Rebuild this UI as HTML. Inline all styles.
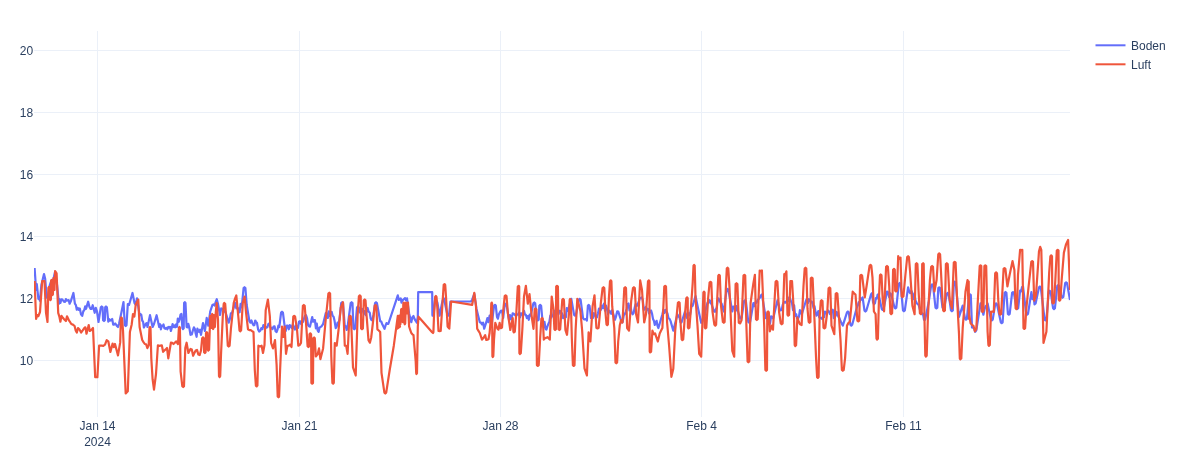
<!DOCTYPE html>
<html><head><meta charset="utf-8"><style>
html,body{margin:0;padding:0;background:#fff;width:1178px;height:460px;overflow:hidden}
svg{display:block;will-change:transform}
text{font-family:"Liberation Sans",sans-serif;font-size:12px;fill:#2a3f5f}
</style></head><body>
<svg width="1178" height="460" viewBox="0 0 1178 460">
<rect width="1178" height="460" fill="#fff"/>
<line x1="34" x2="1070" y1="50.5" y2="50.5" stroke="#EBF0F8" stroke-width="1"/>
<text x="33.1" y="54.7" text-anchor="end">20</text>
<line x1="34" x2="1070" y1="112.5" y2="112.5" stroke="#EBF0F8" stroke-width="1"/>
<text x="33.1" y="116.7" text-anchor="end">18</text>
<line x1="34" x2="1070" y1="174.5" y2="174.5" stroke="#EBF0F8" stroke-width="1"/>
<text x="33.1" y="178.7" text-anchor="end">16</text>
<line x1="34" x2="1070" y1="236.5" y2="236.5" stroke="#EBF0F8" stroke-width="1"/>
<text x="33.1" y="240.7" text-anchor="end">14</text>
<line x1="34" x2="1070" y1="298.5" y2="298.5" stroke="#EBF0F8" stroke-width="1"/>
<text x="33.1" y="302.7" text-anchor="end">12</text>
<line x1="34" x2="1070" y1="360.5" y2="360.5" stroke="#EBF0F8" stroke-width="1"/>
<text x="33.1" y="364.7" text-anchor="end">10</text>
<line x1="97.5" x2="97.5" y1="31" y2="417" stroke="#EBF0F8" stroke-width="1"/>
<text x="97.5" y="430" text-anchor="middle">Jan 14</text>
<line x1="299.5" x2="299.5" y1="31" y2="417" stroke="#EBF0F8" stroke-width="1"/>
<text x="299.5" y="430" text-anchor="middle">Jan 21</text>
<line x1="500.5" x2="500.5" y1="31" y2="417" stroke="#EBF0F8" stroke-width="1"/>
<text x="500.5" y="430" text-anchor="middle">Jan 28</text>
<line x1="701.5" x2="701.5" y1="31" y2="417" stroke="#EBF0F8" stroke-width="1"/>
<text x="701.5" y="430" text-anchor="middle">Feb 4</text>
<line x1="903.5" x2="903.5" y1="31" y2="417" stroke="#EBF0F8" stroke-width="1"/>
<text x="903.5" y="430" text-anchor="middle">Feb 11</text>
<text x="97.5" y="445.6" text-anchor="middle">2024</text>
<defs><clipPath id="c"><rect x="34" y="31" width="1036" height="386"/></clipPath></defs>
<g clip-path="url(#c)" fill="none" stroke-width="2.2" stroke-linejoin="round" stroke-linecap="butt">
<path d="M34.6,268.0 L36.1,290.0 L36.8,284.0 L38.4,299.0 L39.1,297.1 L39.9,300.7 L41.4,285.0 L44.0,274.0 L45.2,279.0 L46.7,297.6 L47.5,295.1 L48.2,298.0 L49.8,285.0 L50.8,282.2 L51.8,280.7 L52.8,282.0 L55.1,271.7 L57.1,285.4 L58.9,303.7 L59.6,299.4 L60.4,303.0 L61.3,299.4 L62.2,299.4 L63.2,300.6 L64.1,301.8 L65.0,302.0 L65.9,299.1 L66.8,300.7 L67.8,300.3 L68.7,300.2 L69.6,303.7 L71.0,300.7 L73.4,293.0 L74.9,303.7 L75.9,305.2 L76.8,309.7 L77.8,308.0 L78.7,309.8 L79.8,308.5 L81.0,314.4 L82.2,315.9 L83.3,311.3 L84.2,310.2 L85.2,306.3 L86.1,308.8 L87.1,305.2 L88.2,301.7 L89.4,306.7 L90.5,308.8 L91.6,308.9 L92.7,305.2 L94.7,312.8 L95.8,307.8 L97.0,311.3 L98.5,322.0 L100.8,307.3 L101.7,306.5 L102.6,307.3 L103.1,320.2 L104.0,321.0 L104.8,320.2 L105.2,307.3 L106.0,306.5 L106.9,307.3 L108.3,321.7 L109.3,319.2 L110.2,320.6 L111.2,320.2 L112.2,319.0 L113.2,324.6 L114.2,324.6 L115.2,323.5 L116.1,324.7 L117.0,326.0 L118.0,327.0 L119.0,324.0 L121.3,313.0 L123.5,302.0 L124.8,325.2 L125.7,326.0 L126.5,325.2 L127.8,304.0 L129.1,304.8 L132.5,293.0 L134.5,303.0 L135.8,304.8 L137.0,298.3 L139.6,315.2 L140.5,314.1 L141.3,314.8 L142.2,320.5 L143.1,321.8 L143.9,327.5 L144.8,325.7 L145.7,324.1 L146.6,323.1 L147.5,327.0 L150.0,315.2 L152.6,327.0 L154.0,324.0 L156.6,315.2 L159.2,327.0 L160.1,324.2 L160.9,329.3 L161.8,325.7 L162.7,326.2 L163.5,324.5 L164.4,328.3 L165.4,328.8 L166.4,327.8 L167.3,329.3 L168.3,327.0 L169.2,327.6 L170.0,326.8 L170.9,331.0 L171.8,327.7 L172.6,324.1 L173.5,327.0 L174.4,325.4 L175.2,327.3 L176.1,324.4 L177.0,326.8 L177.8,318.7 L178.7,321.8 L179.6,319.1 L180.5,314.6 L181.4,314.0 L182.4,328.2 L183.0,329.0 L183.7,328.2 L184.1,303.0 L184.8,302.2 L185.5,303.0 L186.6,327.0 L187.5,327.4 L188.3,323.9 L189.2,327.0 L190.5,334.8 L191.8,334.5 L193.0,330.0 L193.9,327.4 L194.8,328.8 L195.7,333.5 L196.6,336.8 L197.4,328.7 L198.3,331.0 L199.2,332.0 L200.1,329.7 L201.0,334.8 L203.0,323.0 L204.9,331.0 L206.7,317.9 L208.3,325.7 L210.2,311.7 L212.4,305.0 L213.5,304.4 L214.6,305.6 L215.7,302.0 L216.8,299.2 L218.0,304.0 L220.0,315.0 L221.2,308.4 L222.5,309.0 L223.5,309.8 L224.4,311.7 L225.4,311.7 L228.7,322.6 L229.8,319.2 L230.9,313.3 L232.0,313.0 L235.2,303.0 L236.3,308.4 L237.4,307.6 L238.5,309.0 L239.6,312.3 L240.6,303.8 L241.7,307.4 L243.6,288.0 L244.5,287.2 L245.4,288.0 L246.7,305.0 L249.4,321.2 L250.4,322.7 L251.4,320.4 L252.5,323.5 L253.5,325.3 L254.4,325.1 L255.2,320.5 L256.1,321.8 L257.0,323.0 L258.1,329.4 L259.2,331.6 L260.3,330.7 L261.3,328.1 L262.4,329.2 L263.4,325.1 L264.4,327.0 L265.4,326.8 L266.4,327.7 L267.4,327.1 L268.4,324.0 L269.4,323.4 L270.4,327.2 L271.5,328.3 L272.5,329.0 L273.5,326.6 L274.6,326.4 L275.6,331.4 L276.6,332.0 L277.5,329.7 L278.4,325.5 L279.3,327.0 L281.1,312.5 L282.0,311.7 L282.9,312.5 L284.7,326.6 L285.7,331.1 L286.8,325.6 L287.8,325.6 L288.8,329.3 L289.8,325.1 L290.9,326.7 L291.9,328.2 L292.9,324.0 L293.9,327.7 L294.9,329.5 L296.0,325.4 L297.0,326.6 L298.0,327.9 L299.0,321.8 L300.0,321.2 L301.0,324.0 L302.0,322.6 L303.0,321.9 L304.0,318.7 L305.0,315.8 L306.0,315.2 L307.0,318.0 L308.0,324.9 L309.0,326.3 L310.0,326.6 L312.2,317.0 L313.1,321.7 L314.0,320.0 L314.9,320.0 L315.9,328.4 L316.8,323.7 L317.7,330.7 L318.6,331.9 L319.5,327.7 L320.4,327.0 L321.3,326.6 L322.2,325.3 L323.1,324.0 L325.8,313.0 L326.8,313.5 L327.8,318.0 L328.8,311.3 L329.8,315.8 L330.7,313.4 L331.7,311.9 L332.6,315.8 L333.6,316.7 L334.6,321.1 L335.7,328.1 L336.7,326.6 L337.6,322.6 L338.5,323.0 L339.4,320.0 L341.2,303.0 L342.1,302.2 L343.0,303.0 L344.8,326.6 L345.7,326.2 L346.7,330.0 L347.6,326.6 L350.7,303.0 L351.6,302.2 L352.5,303.0 L353.4,328.5 L354.3,329.3 L355.2,328.5 L357.0,307.6 L358.0,306.5 L359.0,307.9 L360.0,312.5 L361.0,313.0 L361.9,308.9 L362.9,309.0 L363.8,313.6 L364.7,311.1 L365.7,315.1 L366.6,310.3 L367.6,308.0 L368.6,311.6 L369.7,312.5 L370.7,318.5 L371.6,320.2 L372.5,320.2 L373.4,315.0 L375.1,303.0 L376.0,302.2 L376.9,303.0 L380.2,321.2 L381.3,321.6 L382.4,324.6 L383.4,326.5 L384.5,328.8 L385.6,325.3 L386.5,323.1 L387.4,323.9 L388.3,324.0 L397.8,295.4 L398.9,299.9 L400.0,299.0 L400.8,298.5 L401.5,302.6 L402.8,300.1 L404.0,299.0 L405.0,298.1 L406.0,300.2 L407.0,298.3 L409.1,313.5 L411.3,322.2 L412.4,317.2 L413.5,316.0 L414.6,319.1 L415.7,321.0 L416.8,322.6 L417.8,316.7 L418.2,292.2 L432.2,292.2 L432.4,314.9 L432.6,315.7 L433.5,314.9 L435.2,298.3 L436.3,300.4 L437.4,302.6 L439.6,315.7 L441.7,304.8 L442.8,299.8 L443.9,298.3 L447.4,314.9 L448.3,315.7 L449.1,314.9 L450.4,301.5 L471.0,301.5 L472.1,299.7 L473.2,296.9 L474.3,294.0 L476.5,309.0 L479.8,322.2 L480.9,322.6 L482.0,324.3 L483.1,322.6 L484.2,328.7 L486.3,322.2 L487.4,318.1 L488.5,322.2 L489.6,315.7 L491.7,324.3 L494.1,305.6 L495.0,304.8 L495.8,305.6 L497.0,317.0 L497.9,318.7 L498.9,314.2 L499.9,312.4 L500.8,310.9 L502.0,310.7 L503.2,318.0 L504.7,304.5 L505.6,303.7 L506.5,304.5 L509.1,320.5 L510.0,315.2 L510.9,319.2 L511.8,317.4 L512.7,313.3 L513.8,313.7 L514.9,315.0 L516.0,316.0 L517.0,314.7 L518.0,314.5 L519.1,312.5 L520.1,317.3 L521.1,313.3 L522.1,313.9 L523.0,315.8 L524.0,310.8 L524.9,314.3 L525.9,315.0 L526.9,318.1 L527.8,316.1 L528.8,319.8 L529.7,314.7 L530.7,315.7 L533.4,303.3 L534.3,302.5 L535.2,303.3 L536.9,319.7 L537.8,320.5 L538.7,319.7 L539.3,305.7 L540.2,304.9 L541.1,305.7 L542.6,322.0 L543.6,327.3 L544.5,321.9 L545.5,328.9 L546.4,329.6 L547.4,326.4 L548.4,323.8 L549.3,322.1 L550.3,315.7 L551.2,317.7 L552.2,315.7 L553.1,315.0 L554.0,310.5 L554.9,317.9 L555.8,313.3 L556.7,309.1 L557.6,311.7 L558.5,314.2 L559.4,310.9 L560.3,311.1 L561.2,313.3 L562.2,313.4 L563.1,318.1 L564.0,315.7 L565.0,317.3 L565.9,317.1 L566.8,308.2 L567.8,310.9 L571.3,298.9 L574.1,314.9 L575.0,315.7 L575.9,314.9 L578.8,299.7 L579.7,298.9 L580.6,299.7 L583.0,318.0 L584.0,319.4 L585.0,319.3 L585.9,319.1 L586.9,320.5 L587.9,305.7 L588.6,304.9 L589.5,305.7 L591.0,318.0 L592.0,317.7 L593.0,317.9 L593.9,313.2 L594.9,314.3 L595.9,317.0 L596.9,317.4 L598.0,313.3 L599.0,308.5 L600.0,309.0 L601.0,309.6 L602.0,305.5 L603.0,308.0 L604.0,303.5 L605.0,310.6 L606.0,305.7 L607.1,309.0 L608.1,314.3 L609.1,310.6 L610.2,311.6 L611.2,313.8 L612.2,310.0 L614.9,319.8 L616.0,316.6 L617.2,311.3 L618.3,311.6 L621.7,322.5 L622.7,321.8 L623.8,315.1 L624.8,314.1 L625.8,311.6 L626.7,308.8 L627.6,304.2 L628.5,303.5 L629.5,310.5 L630.5,306.2 L631.6,312.2 L632.6,314.3 L633.6,313.1 L634.6,308.0 L635.6,304.0 L636.6,306.2 L637.6,304.4 L638.7,302.0 L639.7,298.4 L640.7,298.0 L641.7,297.3 L642.8,300.1 L643.8,309.8 L644.8,309.0 L645.9,307.0 L647.0,309.5 L648.0,308.9 L649.1,313.5 L650.2,311.6 L651.1,310.5 L652.0,313.5 L653.0,318.9 L653.9,320.7 L654.8,324.9 L655.7,322.5 L656.6,320.8 L657.5,325.9 L658.4,328.0 L662.4,314.3 L663.4,309.8 L664.5,313.0 L665.5,309.8 L666.5,311.6 L667.5,313.5 L668.5,318.3 L669.6,318.9 L670.6,321.1 L673.3,330.7 L677.4,314.3 L678.4,316.3 L679.5,317.6 L680.5,322.2 L681.5,322.5 L685.0,311.6 L687.0,318.0 L688.0,313.2 L688.9,313.4 L689.9,315.6 L690.8,310.6 L691.8,304.4 L692.7,305.8 L695.5,296.0 L698.4,310.0 L701.2,322.8 L702.2,321.7 L703.3,316.9 L704.4,317.2 L705.4,311.5 L706.5,306.3 L707.5,302.7 L708.6,302.8 L709.7,300.2 L710.8,302.7 L711.9,305.1 L712.9,308.1 L714.0,311.5 L714.9,311.8 L715.8,309.5 L716.8,307.6 L717.7,300.1 L718.6,298.4 L719.5,300.2 L720.6,302.7 L721.6,303.5 L722.7,308.4 L723.8,311.5 L726.6,289.7 L727.5,288.9 L728.4,289.7 L732.3,311.5 L733.3,306.5 L734.4,307.0 L735.5,311.0 L736.5,306.0 L739.8,317.8 L740.7,318.6 L741.6,317.8 L744.1,301.0 L745.0,300.2 L745.9,301.0 L748.3,322.0 L749.2,322.8 L750.1,322.0 L753.4,303.0 L754.5,306.1 L755.5,302.1 L756.5,302.9 L757.6,300.0 L758.7,299.0 L759.8,297.7 L760.8,295.6 L761.9,294.5 L764.7,311.5 L765.8,318.1 L766.9,314.4 L767.9,321.8 L769.0,322.8 L770.0,323.8 L771.1,316.3 L772.2,317.4 L773.2,318.6 L777.5,300.2 L780.0,310.0 L780.9,310.4 L781.8,309.9 L782.6,305.2 L783.5,303.0 L784.5,301.9 L785.6,302.7 L786.7,301.1 L787.7,297.4 L788.8,301.1 L789.9,297.8 L790.9,301.1 L792.0,303.0 L793.0,310.2 L794.1,305.2 L795.2,315.9 L796.2,314.3 L797.1,318.4 L798.1,318.5 L799.0,316.6 L799.9,310.1 L800.9,311.4 L801.8,314.3 L806.1,300.2 L807.0,298.5 L808.0,302.9 L808.9,299.1 L809.8,300.3 L810.8,302.0 L811.7,301.5 L812.7,304.2 L813.6,307.9 L814.5,306.2 L815.5,311.9 L816.5,315.6 L817.4,314.3 L818.3,311.1 L819.3,317.5 L820.2,317.8 L821.1,318.0 L822.1,318.9 L823.0,315.7 L824.0,317.2 L825.0,311.5 L826.0,313.4 L827.0,312.8 L828.0,310.4 L829.0,311.5 L830.0,314.0 L830.9,312.5 L831.9,310.7 L832.8,309.7 L833.8,318.2 L834.7,315.6 L835.7,315.7 L836.6,311.9 L837.5,313.5 L838.4,316.7 L839.3,318.0 L840.2,320.2 L841.0,322.0 L841.9,323.9 L842.8,325.6 L847.0,312.3 L847.9,311.5 L848.8,312.3 L850.4,324.8 L851.3,325.6 L852.2,324.8 L856.9,307.3 L857.9,305.1 L858.8,302.2 L859.8,301.7 L860.7,298.4 L861.6,299.7 L862.6,297.4 L864.5,310.7 L865.4,311.5 L866.3,310.7 L871.0,294.5 L872.0,293.1 L873.0,302.0 L874.0,304.3 L875.0,303.0 L875.9,298.0 L876.8,298.6 L877.6,294.8 L878.5,294.3 L881.8,309.1 L882.7,309.9 L883.6,309.1 L887.0,291.5 L888.0,292.1 L889.1,296.9 L890.2,293.4 L891.2,294.3 L894.5,307.6 L895.4,308.4 L896.3,307.6 L898.8,283.8 L899.7,283.0 L900.6,283.8 L903.0,310.5 L903.9,311.3 L904.8,310.5 L908.1,287.3 L909.2,291.5 L910.2,293.1 L911.3,290.7 L912.4,292.9 L913.5,299.2 L914.5,294.1 L915.5,300.6 L916.6,302.8 L917.6,304.1 L918.7,304.9 L919.8,309.2 L920.8,311.3 L921.9,314.1 L923.0,313.7 L924.0,319.7 L925.1,319.7 L928.6,302.8 L931.2,285.2 L932.1,284.4 L933.0,285.2 L935.5,307.6 L936.4,308.4 L937.3,307.6 L938.3,288.1 L939.2,287.3 L940.1,288.1 L942.5,307.6 L943.4,308.4 L944.3,307.6 L946.8,293.7 L947.7,292.9 L948.6,293.7 L951.0,310.5 L951.9,311.3 L952.8,310.5 L953.8,282.4 L954.7,281.6 L955.6,282.4 L959.0,316.9 L962.7,305.6 L965.1,318.9 L966.0,319.7 L966.9,318.9 L969.1,295.1 L970.0,294.3 L970.8,295.1 L972.0,327.5 L973.1,327.8 L974.1,328.3 L975.2,331.8 L976.3,330.3 L980.5,303.4 L983.4,314.7 L984.5,309.3 L985.5,306.3 L986.5,305.8 L987.6,303.4 L990.9,319.6 L991.8,320.4 L992.7,319.6 L995.2,304.2 L996.1,303.4 L997.0,304.2 L1000.8,322.4 L1001.7,323.2 L1002.6,322.4 L1004.6,292.8 L1005.5,292.0 L1006.4,292.8 L1007.9,313.9 L1008.8,314.7 L1009.7,313.9 L1012.1,292.9 L1013.0,292.1 L1013.9,292.9 L1016.4,308.2 L1017.3,309.0 L1018.2,308.2 L1020.1,290.7 L1021.1,291.4 L1022.0,287.2 L1023.0,286.5 L1026.2,313.9 L1027.1,314.7 L1028.0,313.9 L1031.4,292.1 L1032.5,299.2 L1033.5,295.4 L1034.5,304.3 L1035.6,303.4 L1039.0,287.3 L1039.9,286.5 L1040.8,287.3 L1044.6,319.6 L1045.5,320.4 L1046.4,319.6 L1048.8,291.5 L1049.7,290.7 L1050.6,291.5 L1053.1,308.3 L1054.0,309.1 L1054.9,308.3 L1057.3,285.9 L1058.2,285.1 L1059.1,285.9 L1061.5,297.0 L1062.4,297.8 L1063.3,297.0 L1065.2,283.1 L1066.1,282.3 L1067.0,283.1 L1070.0,300.0" stroke="#636efa"/>
<path d="M34.6,281.0 L36.1,319.0 L37.2,315.1 L38.4,316.0 L40.0,312.0 L42.2,281.0 L43.4,281.2 L44.5,281.0 L46.0,312.8 L47.5,322.0 L48.4,287.8 L49.0,287.0 L49.6,287.8 L49.9,299.2 L50.5,300.0 L50.9,299.2 L51.1,280.8 L51.5,280.0 L51.9,280.8 L52.1,294.2 L52.5,295.0 L52.9,294.2 L53.5,278.0 L54.5,290.0 L55.1,271.0 L56.6,273.3 L58.2,312.8 L59.3,316.3 L60.4,321.7 L61.5,315.8 L62.6,317.4 L63.7,318.8 L64.8,320.0 L65.9,321.0 L67.0,316.3 L69.1,320.7 L70.2,322.2 L71.3,324.0 L72.9,324.6 L74.6,326.0 L75.7,330.4 L76.8,332.6 L78.0,328.0 L79.5,329.6 L81.1,332.6 L82.7,330.4 L84.3,328.0 L85.4,327.3 L86.5,333.7 L88.7,325.0 L89.8,331.0 L90.9,330.4 L93.0,328.0 L95.2,377.2 L96.3,377.0 L97.4,377.2 L99.1,345.7 L100.4,345.6 L101.7,345.7 L103.3,345.8 L105.0,344.6 L106.7,340.2 L108.3,341.3 L110.4,352.0 L112.6,343.5 L113.8,347.2 L115.0,344.0 L118.0,355.4 L120.2,342.4 L120.9,318.2 L121.3,317.4 L122.0,318.2 L123.0,330.4 L125.7,393.5 L127.8,391.3 L129.9,332.0 L131.7,324.4 L133.0,314.0 L134.4,316.5 L135.7,304.8 L137.0,302.1 L138.3,299.6 L139.6,327.0 L142.2,340.0 L143.5,342.1 L144.8,344.0 L146.1,344.3 L147.4,348.1 L148.7,345.3 L149.5,327.8 L150.0,327.0 L150.5,327.8 L151.3,358.3 L152.6,379.2 L154.0,389.7 L156.0,374.0 L157.9,345.3 L159.2,345.9 L160.5,345.6 L161.8,345.3 L163.1,351.8 L164.4,350.5 L165.7,349.4 L167.0,348.0 L168.3,358.3 L170.9,342.7 L172.2,342.9 L173.5,344.0 L174.8,342.8 L176.1,341.4 L178.0,344.0 L178.9,327.8 L179.5,327.0 L179.9,327.8 L180.6,371.4 L182.3,386.2 L183.2,387.0 L184.0,386.2 L185.3,348.0 L186.6,342.7 L188.4,353.0 L190.5,349.0 L191.8,349.6 L193.1,355.7 L194.4,353.1 L195.7,350.5 L197.0,349.9 L198.3,354.4 L199.7,355.0 L201.0,350.5 L202.2,338.2 L203.0,337.4 L203.8,338.2 L204.1,352.2 L204.9,353.0 L205.6,352.2 L206.0,333.0 L206.7,332.2 L207.3,333.0 L207.7,349.7 L208.3,350.5 L209.1,349.7 L210.2,316.0 L211.3,328.0 L211.8,314.8 L212.2,314.0 L212.6,314.8 L212.7,328.2 L213.1,329.0 L213.5,328.2 L214.0,315.0 L214.9,327.0 L215.8,312.0 L216.7,303.0 L218.0,320.0 L219.0,376.2 L219.6,377.0 L220.2,376.2 L221.0,355.0 L222.8,316.0 L223.7,303.8 L224.3,303.0 L225.2,303.8 L226.5,322.6 L227.8,345.7 L228.7,346.5 L229.6,345.7 L230.9,329.0 L233.7,303.0 L235.0,298.6 L236.3,295.4 L238.5,318.3 L239.5,330.5 L240.2,331.3 L241.1,330.5 L242.8,303.0 L244.6,296.5 L246.0,312.0 L248.0,329.3 L249.3,330.1 L250.7,330.0 L252.1,331.1 L253.5,332.0 L254.8,370.0 L255.9,385.6 L256.7,386.4 L257.4,385.6 L258.4,345.7 L260.0,346.4 L261.6,345.7 L263.0,353.0 L264.5,345.0 L265.7,310.3 L267.9,299.5 L269.8,315.8 L271.1,343.0 L273.0,348.4 L275.0,340.0 L276.6,364.7 L277.7,396.5 L278.5,397.3 L279.1,396.5 L280.1,370.0 L282.0,326.6 L283.4,337.0 L284.7,326.6 L286.0,353.8 L287.4,345.8 L288.8,345.7 L290.1,344.6 L291.5,347.0 L293.3,316.6 L294.2,315.8 L295.1,316.6 L297.0,329.3 L298.3,345.7 L299.6,345.1 L301.0,343.0 L302.9,305.8 L303.8,305.0 L304.7,305.8 L306.5,329.3 L307.6,346.2 L308.4,347.0 L309.2,346.2 L309.5,334.2 L310.3,333.4 L311.1,334.2 L311.4,382.9 L312.2,383.7 L313.0,382.9 L313.3,338.3 L314.1,337.5 L314.8,338.3 L315.8,356.5 L317.7,354.0 L319.0,348.4 L320.4,359.2 L323.1,348.4 L325.8,318.5 L328.4,293.5 L329.3,292.7 L330.1,293.5 L331.3,356.5 L332.4,382.9 L333.2,383.7 L333.8,382.9 L334.8,343.0 L336.7,345.7 L338.6,329.3 L340.8,307.6 L341.9,304.6 L343.0,302.2 L344.8,345.7 L346.2,345.8 L347.6,353.8 L349.4,316.6 L350.3,315.8 L350.8,316.6 L351.6,332.0 L353.0,367.4 L355.7,375.5 L357.6,315.8 L358.9,296.2 L359.8,295.4 L360.7,296.2 L361.1,328.5 L362.0,329.3 L362.9,328.5 L363.8,300.3 L364.7,299.5 L365.5,300.3 L366.6,315.8 L368.5,340.2 L369.9,342.7 L371.2,337.5 L373.4,318.5 L374.7,305.8 L375.5,305.0 L376.3,305.8 L377.4,329.3 L378.8,330.5 L380.2,332.0 L381.5,372.8 L384.4,392.7 L385.3,393.5 L386.2,392.7 L389.7,370.0 L393.8,345.7 L397.8,315.8 L400.0,326.6 L397.2,328.7 L399.3,315.7 L400.4,324.3 L401.1,309.8 L401.5,309.0 L401.9,309.8 L402.2,321.2 L402.6,322.0 L403.0,321.2 L403.3,303.4 L403.7,302.6 L404.1,303.4 L404.4,323.5 L404.8,324.3 L405.2,323.5 L405.9,302.6 L407.0,313.5 L408.0,302.6 L409.1,326.5 L410.2,329.8 L411.3,333.0 L412.4,334.3 L413.5,335.2 L414.6,348.3 L415.7,361.3 L416.2,373.2 L416.5,374.0 L417.0,373.2 L417.8,326.5 L418.5,316.7 L432.1,332.2 L433.0,333.0 L433.4,332.2 L434.1,313.5 L435.2,296.8 L435.9,296.0 L436.5,296.8 L437.4,309.0 L438.5,331.0 L439.6,331.2 L440.7,331.0 L442.4,304.8 L443.7,284.9 L444.6,284.1 L445.2,284.9 L446.1,298.3 L447.6,326.5 L449.3,328.7 L451.1,301.5 L472.2,304.8 L474.3,292.8 L475.9,304.8 L477.2,328.7 L478.5,330.9 L479.8,333.0 L482.0,339.6 L483.6,337.8 L485.2,335.2 L486.3,340.0 L487.4,339.6 L488.5,339.2 L489.6,333.0 L490.7,320.0 L491.3,303.4 L491.7,302.6 L492.1,303.4 L492.4,356.2 L492.8,357.0 L493.3,356.2 L494.0,339.6 L495.3,322.8 L497.4,328.7 L498.5,329.7 L499.6,322.8 L500.8,328.2 L502.0,327.6 L503.2,310.9 L504.7,296.1 L505.6,295.3 L506.5,296.1 L507.9,313.3 L510.3,330.0 L512.7,318.0 L513.4,331.6 L513.9,332.4 L514.8,331.6 L516.3,313.3 L517.8,286.6 L518.7,285.8 L519.2,286.6 L519.4,353.2 L519.9,354.0 L520.8,353.2 L522.3,330.0 L524.0,296.5 L525.9,285.8 L527.8,303.7 L529.5,294.1 L531.9,318.0 L533.5,328.8 L534.7,309.3 L535.5,308.5 L536.4,309.3 L536.9,365.1 L537.8,365.9 L538.7,365.1 L540.2,337.2 L541.4,318.8 L542.2,318.0 L542.8,318.8 L543.8,339.6 L545.0,338.1 L546.2,337.9 L547.4,337.2 L548.6,338.2 L549.8,339.6 L551.7,296.5 L553.4,308.5 L554.4,329.2 L555.1,330.0 L555.9,329.2 L556.2,286.6 L557.0,285.8 L557.9,286.6 L558.5,329.2 L559.4,330.0 L560.2,329.2 L561.3,313.3 L562.3,299.7 L563.0,298.9 L563.9,299.7 L565.4,330.0 L567.0,334.8 L569.0,313.3 L569.7,299.7 L570.1,298.9 L570.8,299.7 L571.8,337.2 L572.9,365.1 L573.7,365.9 L574.5,365.1 L575.6,330.0 L577.3,298.9 L580.4,310.9 L582.1,330.0 L584.5,368.3 L586.9,375.5 L588.6,332.4 L590.4,341.5 L592.6,306.2 L594.5,295.3 L596.4,328.0 L597.5,328.4 L598.6,328.0 L600.8,303.5 L602.6,288.0 L603.5,287.2 L604.3,288.0 L605.4,311.6 L606.5,324.4 L607.3,325.2 L607.9,324.4 L608.9,298.0 L610.0,281.2 L610.8,280.4 L611.4,281.2 L612.2,306.2 L614.3,328.0 L615.5,362.5 L616.3,363.3 L617.1,362.5 L618.2,341.5 L619.8,325.2 L621.1,320.0 L622.5,322.5 L624.3,288.0 L625.2,287.2 L626.0,288.0 L627.1,328.0 L629.0,330.7 L631.2,300.8 L633.0,288.0 L633.9,287.2 L634.8,288.0 L636.1,314.3 L638.0,322.5 L640.2,280.4 L642.0,290.0 L644.2,322.5 L646.0,314.3 L648.0,281.2 L648.9,280.4 L649.4,281.2 L649.7,351.6 L650.2,352.4 L651.1,351.6 L652.4,330.7 L653.8,334.2 L655.1,333.4 L657.8,341.5 L659.7,333.4 L661.0,330.8 L662.4,328.0 L664.3,286.6 L665.2,285.8 L666.0,286.6 L667.1,322.5 L669.2,347.0 L671.4,376.8 L673.3,368.7 L675.2,330.7 L677.9,302.9 L678.8,302.1 L679.6,302.9 L680.7,325.2 L681.7,339.4 L682.3,340.2 L683.2,339.4 L685.0,314.3 L686.3,298.2 L687.1,297.4 L687.7,298.2 L687.9,327.6 L688.5,328.4 L689.4,327.6 L690.7,311.5 L692.7,283.2 L693.5,265.7 L694.1,264.9 L694.7,265.7 L695.5,297.4 L697.5,325.6 L699.2,353.9 L701.2,356.7 L702.6,317.1 L703.4,292.5 L704.0,291.7 L704.6,292.5 L704.8,327.6 L705.4,328.4 L706.3,327.6 L708.2,297.4 L709.6,282.6 L710.5,281.8 L711.3,282.6 L712.5,311.5 L714.4,324.8 L715.3,325.6 L716.1,324.8 L717.3,297.4 L718.3,275.6 L719.0,274.8 L719.8,275.6 L721.0,305.8 L722.9,322.0 L723.8,322.8 L724.6,322.0 L725.8,288.9 L726.8,268.5 L727.5,267.7 L728.3,268.5 L729.4,286.1 L732.3,351.0 L734.2,356.7 L735.6,284.0 L736.5,283.2 L737.4,284.0 L738.8,322.8 L740.2,323.4 L741.6,320.0 L743.5,275.6 L744.4,274.8 L745.2,275.6 L746.4,325.6 L747.6,361.5 L748.4,362.3 L749.3,361.5 L750.6,303.0 L753.4,283.2 L754.9,274.8 L756.0,319.2 L756.8,320.0 L757.7,319.2 L759.7,270.5 L760.8,271.1 L761.9,270.5 L764.2,325.6 L765.4,370.0 L766.2,370.8 L767.0,370.0 L767.3,312.3 L768.1,311.5 L768.8,312.3 L769.8,331.3 L771.8,325.6 L773.0,329.6 L775.6,281.7 L776.5,280.9 L777.4,281.7 L779.1,312.0 L780.8,323.5 L781.7,324.3 L782.6,323.5 L784.3,274.0 L785.3,274.4 L786.4,271.3 L787.5,314.9 L788.2,315.7 L789.1,314.9 L790.4,281.0 L792.0,281.0 L793.9,312.0 L794.7,345.2 L795.3,346.0 L796.1,345.2 L797.4,317.4 L798.7,321.6 L800.0,324.3 L801.6,325.0 L803.5,286.0 L804.7,268.5 L805.5,267.7 L806.3,268.5 L807.5,308.7 L808.7,322.0 L809.5,322.8 L810.4,322.0 L810.8,278.4 L811.7,277.6 L812.6,278.4 L814.5,320.0 L816.0,356.7 L817.1,377.1 L817.9,377.9 L818.6,377.1 L819.6,317.1 L820.8,301.0 L821.6,300.2 L822.5,301.0 L823.5,327.6 L824.4,328.4 L825.3,327.6 L827.3,311.5 L828.6,288.3 L829.5,287.5 L830.3,288.3 L831.5,325.6 L834.3,334.1 L835.7,293.9 L836.6,293.1 L837.4,293.9 L838.6,311.5 L840.5,339.7 L841.9,370.0 L842.8,370.8 L843.7,370.0 L845.1,358.1 L847.0,325.6 L848.5,322.9 L849.9,321.4 L852.7,291.7 L854.1,293.3 L855.5,294.5 L857.4,320.6 L858.3,321.4 L859.2,320.6 L860.3,275.6 L861.2,274.8 L862.1,275.6 L864.8,297.4 L866.6,286.0 L869.6,265.7 L870.5,264.9 L871.3,265.7 L872.5,277.6 L873.9,311.5 L875.6,314.1 L876.5,338.7 L877.1,339.5 L877.9,338.7 L879.0,297.1 L880.0,275.3 L880.7,274.5 L881.5,275.3 L882.7,300.0 L884.1,311.3 L886.1,266.8 L887.0,266.0 L887.9,266.8 L889.2,285.8 L890.4,313.3 L891.2,314.1 L892.1,313.3 L893.1,269.7 L894.0,268.9 L894.8,269.7 L895.2,290.7 L896.0,291.5 L896.9,290.7 L898.2,256.2 L899.4,258.9 L900.5,257.6 L901.7,296.3 L902.5,297.1 L903.4,296.3 L905.3,276.0 L907.2,257.0 L908.1,256.2 L908.9,257.0 L910.1,271.7 L912.4,305.6 L914.6,314.1 L915.8,264.0 L916.6,263.2 L917.4,264.0 L918.6,291.5 L919.9,313.3 L920.8,314.1 L921.7,313.3 L922.2,264.0 L923.1,263.2 L923.7,264.0 L924.5,319.7 L925.3,355.7 L925.9,356.5 L926.7,355.7 L927.9,316.9 L929.9,280.2 L931.2,266.8 L932.1,266.0 L933.0,266.8 L934.4,291.5 L936.6,280.0 L938.3,254.2 L939.2,253.4 L940.1,254.2 L942.0,291.5 L943.2,310.5 L944.0,311.3 L944.9,310.5 L945.9,264.0 L946.8,263.2 L947.7,264.0 L949.7,300.0 L951.9,308.4 L953.8,262.6 L954.7,261.8 L955.6,262.6 L957.0,297.1 L959.0,333.9 L959.8,358.5 L960.4,359.3 L961.3,358.5 L962.7,328.2 L965.5,291.5 L967.5,280.2 L969.1,318.9 L970.0,319.7 L969.1,318.9 L968.7,281.6 L967.8,280.8 L968.4,281.6 L969.2,314.7 L970.6,323.2 L972.0,324.9 L973.5,326.0 L974.9,331.3 L976.3,328.9 L978.6,286.5 L979.7,266.1 L980.5,265.3 L981.3,266.1 L981.7,311.1 L982.5,311.9 L983.4,311.1 L984.4,266.1 L985.3,265.3 L986.2,266.1 L987.6,331.7 L988.4,345.0 L989.0,345.8 L989.8,345.0 L991.0,311.9 L992.4,311.5 L993.8,311.9 L995.2,273.2 L996.1,272.4 L997.0,273.2 L998.3,300.6 L999.5,313.9 L1000.3,314.7 L1001.2,313.9 L1003.6,268.9 L1004.5,268.1 L1005.4,268.9 L1007.4,286.5 L1009.6,275.0 L1012.5,261.1 L1014.4,270.0 L1015.6,308.3 L1016.4,309.1 L1017.0,308.3 L1018.0,275.0 L1020.1,249.8 L1021.2,250.5 L1022.3,249.8 L1023.5,328.1 L1024.3,328.9 L1025.1,328.1 L1026.3,309.0 L1028.6,286.5 L1031.3,261.9 L1032.2,261.1 L1033.0,261.9 L1034.2,300.6 L1036.0,295.0 L1039.0,251.2 L1040.2,246.8 L1041.3,249.8 L1043.5,343.0 L1046.4,331.7 L1049.2,272.4 L1050.4,256.2 L1051.2,255.4 L1052.0,256.2 L1052.3,302.6 L1053.1,303.4 L1054.0,302.6 L1055.3,280.8 L1056.8,250.6 L1057.7,249.8 L1058.5,250.6 L1058.8,299.8 L1059.6,300.6 L1060.4,299.8 L1061.6,280.8 L1063.9,252.6 L1066.1,244.1 L1068.1,239.9 L1070.0,290.0" stroke="#EF553B"/>
</g>
<line x1="1095.5" x2="1125.5" y1="45.3" y2="45.3" stroke="#636efa" stroke-width="2"/>
<text x="1131" y="49.8">Boden</text>
<line x1="1095.5" x2="1125.5" y1="64.3" y2="64.3" stroke="#EF553B" stroke-width="2"/>
<text x="1131" y="68.8">Luft</text>
</svg>
</body></html>
